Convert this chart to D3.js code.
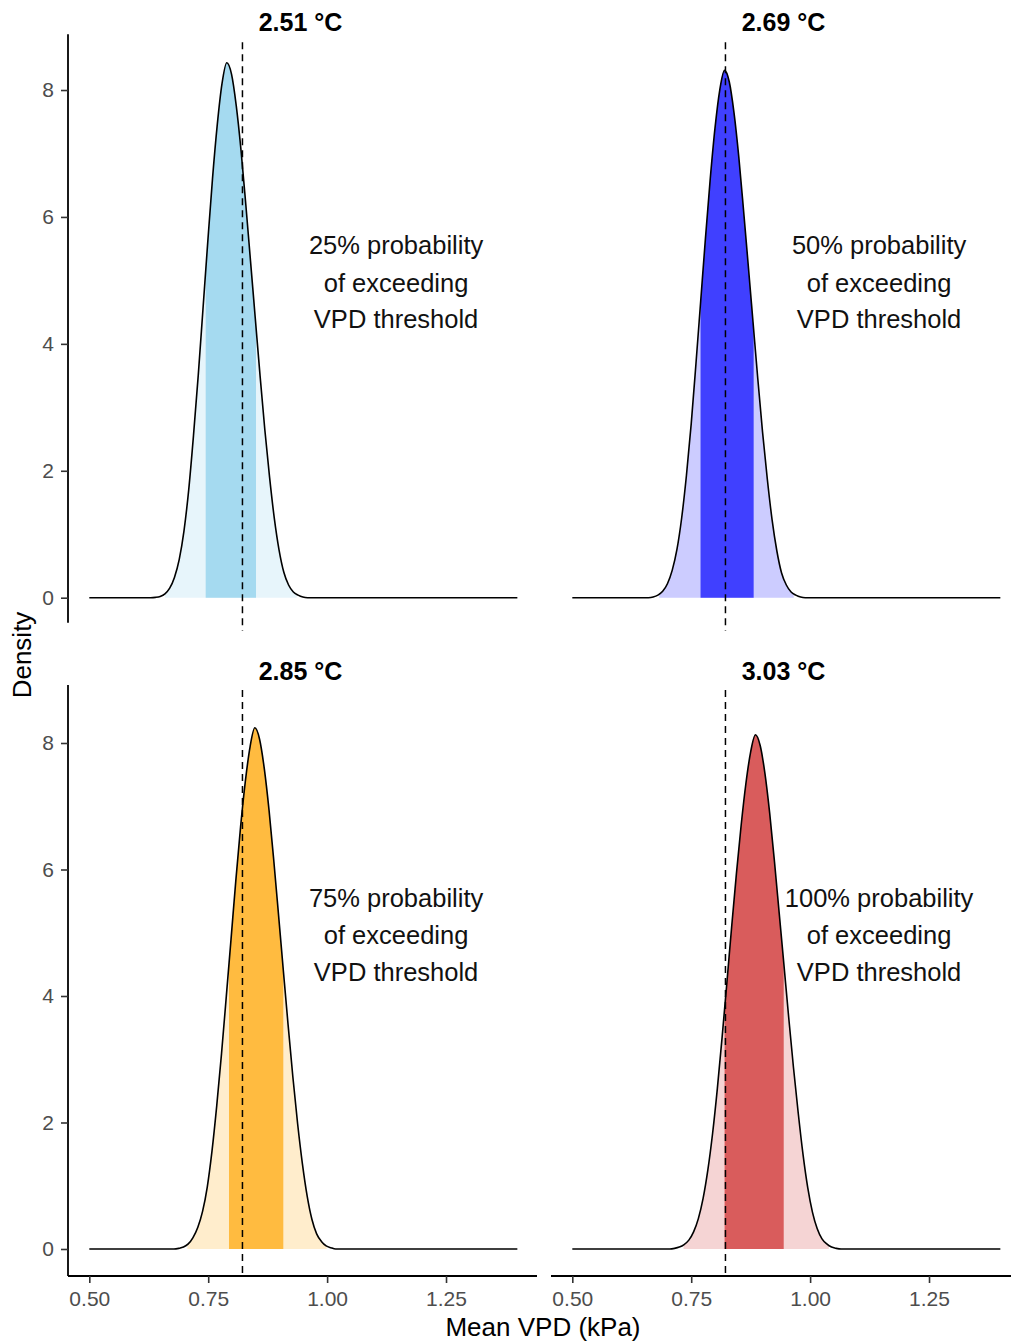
<!DOCTYPE html>
<html><head><meta charset="utf-8">
<script src="https://cdn.jsdelivr.net/npm/d3@7"></script>
<style>body{margin:0;background:#fff} svg{display:block;font-family:"Liberation Sans",Arial,sans-serif}</style>
</head><body><svg id="c" width="1011" height="1344"></svg>
<script>
// ---------- data ----------
const titles = ["2.51 °C", "2.69 °C", "2.85 °C", "3.03 °C"];
const probLabels = ["25% probability", "50% probability", "75% probability", "100% probability"];
const annoLines2 = ["of exceeding", "VPD threshold"];
const xTicks = [0.50, 0.75, 1.00, 1.25];
const yTicks = [0, 2, 4, 6, 8];
const threshold = 0.822;
const darkLo = [0.7447, 0.7696, 0.7937, 0.8202];
const darkHi = [0.8505, 0.8813, 0.9079, 0.9445];
const lightLo = [0.6592, 0.6826, 0.7061, 0.7338];
const lightHi = [0.9361, 0.9656, 0.9992, 1.0393];
const darkColors = ["#a5daf0", "#4040ff", "#ffbb40", "#d95c5c"];
const lightColors = ["#e7f5fb", "#ccccff", "#ffedcc", "#f5d4d4"];
const annoX = 1.145, annoY = 5;

const curve1 = [[0.50,0],[0.629,0],[0.639,0.005],[0.649,0.02],[0.659,0.06],[0.669,0.15],[0.679,0.32],[0.689,0.6],[0.699,1.05],[0.709,1.7],[0.719,2.55],[0.729,3.5],[0.739,4.55],[0.749,5.6],[0.759,6.6],[0.769,7.45],[0.779,8.1],[0.789,8.43],[0.799,8.25],[0.809,7.75],[0.819,7.05],[0.829,6.2],[0.839,5.3],[0.849,4.4],[0.859,3.5],[0.869,2.65],[0.879,1.9],[0.889,1.25],[0.899,0.75],[0.909,0.4],[0.919,0.2],[0.929,0.09],[0.939,0.04],[0.949,0.01],[0.959,0],[1.40,0]];
const curve2 = [[0.50,0],[0.660,0],[0.670,0.01],[0.680,0.04],[0.690,0.1],[0.700,0.22],[0.710,0.43],[0.720,0.76],[0.730,1.26],[0.740,1.93],[0.750,2.74],[0.760,3.69],[0.770,4.68],[0.780,5.67],[0.790,6.6],[0.800,7.4],[0.810,8.0],[0.820,8.31],[0.830,8.13],[0.840,7.64],[0.850,6.95],[0.860,6.11],[0.870,5.23],[0.880,4.34],[0.890,3.45],[0.900,2.61],[0.910,1.87],[0.920,1.23],[0.930,0.74],[0.940,0.39],[0.950,0.2],[0.960,0.09],[0.970,0.04],[0.980,0.01],[0.990,0],[1.40,0]];
const curve3 = [[0.50,0],[0.678,0],[0.688,0.01],[0.698,0.03],[0.708,0.08],[0.718,0.18],[0.728,0.34],[0.738,0.59],[0.748,0.98],[0.758,1.55],[0.768,2.27],[0.778,3.09],[0.788,3.99],[0.798,4.9],[0.808,5.82],[0.818,6.67],[0.828,7.39],[0.838,7.94],[0.848,8.24],[0.858,8.06],[0.868,7.59],[0.878,6.93],[0.888,6.13],[0.898,5.27],[0.908,4.4],[0.918,3.54],[0.928,2.72],[0.938,1.98],[0.948,1.35],[0.958,0.84],[0.968,0.47],[0.978,0.24],[0.988,0.12],[0.998,0.05],[1.008,0.02],[1.018,0],[1.40,0]];
const curve4 = [[0.50,0],[0.705,0],[0.715,0.01],[0.725,0.03],[0.735,0.07],[0.745,0.14],[0.755,0.27],[0.765,0.48],[0.775,0.8],[0.785,1.25],[0.795,1.83],[0.805,2.54],[0.815,3.35],[0.825,4.21],[0.835,5.09],[0.845,5.93],[0.855,6.7],[0.865,7.36],[0.875,7.86],[0.885,8.13],[0.895,7.96],[0.905,7.52],[0.915,6.89],[0.925,6.13],[0.935,5.31],[0.945,4.49],[0.955,3.66],[0.965,2.87],[0.975,2.15],[0.985,1.5],[0.995,0.97],[1.005,0.58],[1.015,0.32],[1.025,0.16],[1.035,0.08],[1.045,0.03],[1.055,0.01],[1.065,0],[1.40,0]];
const curves = [curve1, curve2, curve3, curve4];

// ---------- layout ----------
const colX = [[68, 537], [551, 1020]];
const rowY = [[34.3, 622.7], [685, 1276]];
const titleY = [31, 680];
const yDomains = [[-0.394, 8.878], [-0.427, 8.917]];
const xDomain = [0.4552, 1.4413];

const svg = d3.select("#c");
const defs = svg.append("defs");

for (let i = 0; i < 4; i++) {
  const col = i % 2, row = Math.floor(i / 2);
  const x = d3.scaleLinear().domain(xDomain).range(colX[col]);
  const y = d3.scaleLinear().domain(yDomains[row]).range([rowY[row][1], rowY[row][0]]);
  const g = svg.append("g");
  const area = d3.area().x(d => x(d[0])).y0(y(0)).y1(d => y(d[1])).curve(d3.curveMonotoneX);
  const line = d3.line().x(d => x(d[0])).y(d => y(d[1])).curve(d3.curveMonotoneX);

  [[lightLo[i], lightHi[i], lightColors[i], "l"], [darkLo[i], darkHi[i], darkColors[i], "d"]].forEach(([lo, hi, col2, k]) => {
    const id = "clip" + k + i;
    defs.append("clipPath").attr("id", id).append("rect")
      .attr("x", x(lo)).attr("width", x(hi) - x(lo))
      .attr("y", rowY[row][0]).attr("height", rowY[row][1] - rowY[row][0]);
    g.append("path").datum(curves[i]).attr("d", area).attr("fill", col2).attr("clip-path", `url(#${id})`);
  });
  g.append("path").datum(curves[i]).attr("d", line).attr("fill", "none")
    .attr("stroke", "#000").attr("stroke-width", 1.6).attr("stroke-linejoin", "round");

  // threshold line
  g.append("line").attr("x1", x(threshold)).attr("x2", x(threshold))
    .attr("y1", rowY[row][0] + (row === 0 ? 8 : 5)).attr("y2", rowY[row][1] + (row === 0 ? 8 : 0))
    .attr("stroke", "#000").attr("stroke-width", 1.5).attr("stroke-dasharray", "7,5");

  // title
  svg.append("text").attr("x", (colX[col][0] + colX[col][1]) / 2 - 2).attr("y", titleY[row])
    .attr("text-anchor", "middle").attr("font-size", 25).attr("font-weight", "bold").attr("fill", "#000")
    .text(titles[i]);

  // annotation
  const lines = [probLabels[i]].concat(annoLines2);
  const yc = y(annoY);
  [-26, 11.5, 48].forEach((dy, j) => {
    svg.append("text").attr("x", x(annoX)).attr("y", yc + dy).attr("text-anchor", "middle")
      .attr("font-size", 25.5).attr("fill", "#111").text(lines[j]);
  });

  // axes
  if (col === 0) {
    const ay = svg.append("g").attr("transform", `translate(${colX[col][0]},0)`)
      .call(d3.axisLeft(y).tickValues(yTicks).tickFormat(d3.format("d")).tickSize(7).tickPadding(7));
    ay.select(".domain").attr("d", `M0,${rowY[row][0]}V${rowY[row][1]}`).attr("stroke", "#000").attr("stroke-width", 1.8);
    ay.selectAll(".tick line").attr("stroke", "#333").attr("stroke-width", 1.6);
    ay.selectAll(".tick text").attr("font-size", 21).attr("fill", "#4d4d4d").attr("font-family", "Liberation Sans, Arial, sans-serif");
  }
  if (row === 1) {
    const ax = svg.append("g").attr("transform", `translate(0,${rowY[row][1]})`)
      .call(d3.axisBottom(x).tickValues(xTicks).tickFormat(d3.format(".2f")).tickSize(7).tickPadding(8));
    ax.select(".domain").attr("d", `M${colX[col][0]},0H${colX[col][1]}`).attr("stroke", "#000").attr("stroke-width", 1.8);
    ax.selectAll(".tick line").attr("stroke", "#333").attr("stroke-width", 1.6);
    ax.selectAll(".tick text").attr("font-size", 21).attr("fill", "#4d4d4d").attr("font-family", "Liberation Sans, Arial, sans-serif");
  }
}

svg.append("text").attr("transform", "translate(31,655) rotate(-90)").attr("text-anchor", "middle")
  .attr("font-size", 26).attr("fill", "#000").text("Density");
svg.append("text").attr("x", 543).attr("y", 1336).attr("text-anchor", "middle")
  .attr("font-size", 26).attr("fill", "#000").text("Mean VPD (kPa)");
</script></body></html>
